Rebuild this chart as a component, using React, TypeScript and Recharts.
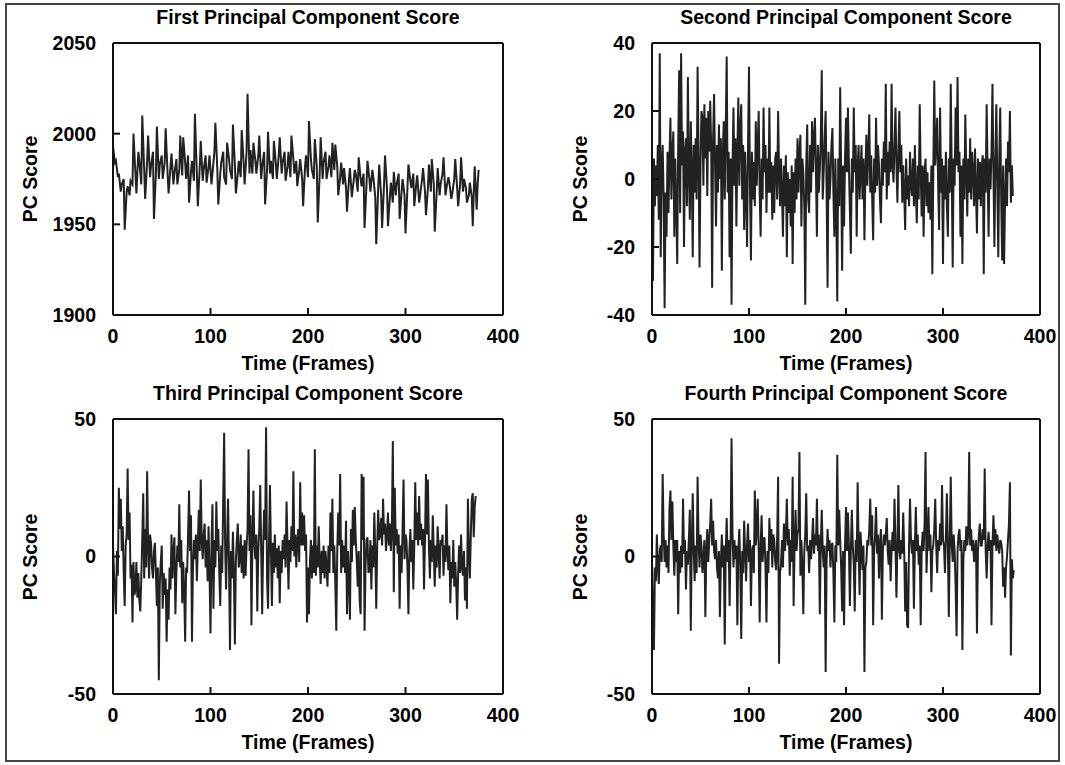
import { LineChart, Line, XAxis, YAxis } from "recharts";

const FONT = '"Liberation Sans", Arial, sans-serif';

const frameTicks = [0, 100, 200, 300, 400];
const pc1Ticks = [1900, 1950, 2000, 2050];
const pc2Ticks = [-40, -20, 0, 20, 40];
const pc34Ticks = [-50, 0, 50];

// [frame, score] pairs
const pc1: [number, number][] = [
  [0, 1993], [2, 1984], [3, 1985], [5, 1976], [6, 1978], [8, 1968], [9, 1972], [11, 1975], [12, 1947], [14, 1968],
  [15, 1971], [17, 1966], [18, 1974], [20, 1972], [21, 2000], [23, 1978], [24, 1967], [26, 1990], [27, 1985], [29, 1972],
  [30, 2010], [32, 1980], [33, 1964], [35, 1985], [36, 1999], [38, 1976], [39, 1982], [41, 1990], [42, 1953], [44, 1978],
  [45, 2004], [47, 1975], [48, 1983], [50, 1988], [51, 1975], [53, 1984], [54, 2003], [56, 1978], [57, 1967], [59, 1982],
  [60, 1989], [62, 1972], [63, 1978], [65, 1986], [66, 1972], [68, 1980], [69, 1999], [71, 1977], [72, 1998], [74, 1984],
  [75, 1975], [77, 1988], [78, 1962], [80, 1979], [81, 1985], [83, 1974], [84, 2011], [86, 1978], [87, 1960], [89, 1982],
  [90, 1996], [92, 1974], [93, 1980], [95, 1988], [96, 1973], [98, 1982], [99, 1988], [101, 1972], [102, 1978], [104, 1990],
  [105, 2006], [107, 1980], [108, 1961], [110, 1978], [111, 1984], [113, 1990], [114, 1976], [116, 1972], [117, 1995], [119, 1986],
  [120, 1980], [122, 1975], [123, 2005], [125, 1983], [126, 1967], [128, 1978], [129, 1985], [131, 1976], [132, 2002], [134, 1984],
  [135, 1972], [137, 1990], [138, 2022], [140, 1978], [141, 1991], [143, 1978], [144, 1995], [146, 1985], [147, 1978], [149, 1988],
  [150, 1999], [152, 1975], [153, 1982], [155, 1990], [156, 1961], [158, 1980], [159, 2001], [161, 1978], [162, 1985], [164, 1975],
  [165, 1996], [167, 1984], [168, 1975], [170, 1988], [171, 1998], [173, 1978], [174, 1984], [176, 1990], [177, 1974], [179, 1982],
  [180, 1990], [182, 1976], [183, 1999], [185, 1986], [186, 1978], [188, 1985], [189, 1971], [191, 1980], [192, 1986], [194, 1975],
  [195, 1960], [197, 1982], [198, 1988], [200, 1976], [201, 2007], [203, 1986], [204, 1980], [206, 1975], [207, 1997], [209, 1982],
  [210, 1951], [212, 1978], [213, 1998], [215, 1975], [216, 1984], [218, 1990], [219, 1975], [221, 1982], [222, 1988], [224, 1976],
  [225, 1995], [227, 1980], [228, 1994], [230, 1982], [231, 1966], [233, 1976], [234, 1984], [236, 1972], [237, 1981], [239, 1970],
  [240, 1957], [242, 1975], [243, 1981], [245, 1965], [246, 1970], [248, 1980], [249, 1978], [251, 1968], [252, 1987], [254, 1975],
  [255, 1971], [257, 1978], [258, 1948], [260, 1972], [261, 1985], [263, 1975], [264, 1968], [266, 1980], [267, 1976], [269, 1965],
  [270, 1939], [272, 1970], [273, 1983], [275, 1966], [276, 1948], [278, 1972], [279, 1988], [281, 1970], [282, 1949], [284, 1965],
  [285, 1973], [287, 1962], [288, 1979], [290, 1966], [291, 1972], [293, 1978], [294, 1953], [296, 1968], [297, 1975], [299, 1966],
  [300, 1945], [302, 1970], [303, 1983], [305, 1974], [306, 1970], [308, 1978], [309, 1960], [311, 1972], [312, 1977], [314, 1962],
  [315, 1966], [317, 1975], [318, 1981], [320, 1968], [321, 1955], [323, 1970], [324, 1983], [326, 1968], [327, 1986], [329, 1972],
  [330, 1946], [332, 1968], [333, 1981], [335, 1966], [336, 1972], [338, 1978], [339, 1987], [341, 1966], [342, 1970], [344, 1976],
  [345, 1973], [347, 1964], [348, 1967], [350, 1975], [351, 1986], [353, 1970], [354, 1960], [356, 1972], [357, 1987], [359, 1968],
  [360, 1975], [362, 1970], [363, 1962], [365, 1966], [366, 1973], [368, 1965], [369, 1949], [370, 1968], [371, 1982], [372, 1970],
  [373, 1958], [374, 1972], [375, 1980],
];

const pc2: [number, number][] = [
  [0, 2], [1, -30], [2, 6], [3, -8], [4, 4], [5, -5], [6, 10], [7, -12], [8, 37], [9, -23],
  [10, 4], [11, 10], [12, -6], [13, -38], [14, -4], [15, -17], [16, 8], [17, -10], [18, 6], [19, 18],
  [20, -6], [21, 8], [22, 14], [23, -17], [24, 6], [25, -8], [26, -25], [27, 10], [28, 32], [29, -10],
  [30, 37], [31, 4], [32, 14], [33, -20], [34, 8], [35, 12], [36, -8], [37, 30], [38, 2], [39, -12],
  [40, 17], [41, 2], [42, -23], [43, 10], [44, -4], [45, 12], [46, -6], [47, 33], [48, 8], [49, -26],
  [50, 4], [51, 20], [52, 18], [53, -2], [54, 22], [55, 6], [56, 18], [57, -5], [58, 20], [59, 8],
  [60, 23], [61, 10], [62, -32], [63, 12], [64, 25], [65, 4], [66, -14], [67, 10], [68, -4], [69, 16],
  [70, 0], [71, 12], [72, -27], [73, 8], [74, 17], [75, -6], [76, 14], [77, 36], [78, -4], [79, 8],
  [80, -23], [81, 6], [82, -37], [83, 4], [84, 21], [85, -2], [86, 12], [87, -14], [88, 8], [89, 24],
  [90, -2], [91, 14], [92, 22], [93, -6], [94, 10], [95, -15], [96, 8], [97, -4], [98, -20], [99, 10],
  [100, 33], [101, -2], [102, -24], [103, 8], [104, -6], [105, 5], [106, -8], [107, 17], [108, -2], [109, 10],
  [110, 20], [111, -4], [112, -17], [113, 6], [114, -6], [115, 21], [116, 2], [117, 10], [118, -10], [119, 6],
  [120, -4], [121, 21], [122, -4], [123, 5], [124, -12], [125, 4], [126, -10], [127, 6], [128, 8], [129, -6],
  [130, 20], [131, 2], [132, -8], [133, 6], [134, -4], [135, -17], [136, 4], [137, -8], [138, 7], [139, -23],
  [140, 2], [141, -10], [142, 0], [143, -14], [144, 4], [145, -25], [146, 2], [147, -10], [148, 6], [149, -6],
  [150, 12], [151, -4], [152, 8], [153, 13], [154, -14], [155, 6], [156, 2], [157, -8], [158, -37], [159, 4],
  [160, 16], [161, -6], [162, -10], [163, 10], [164, -4], [165, 17], [166, 2], [167, 12], [168, 18], [169, 2],
  [170, -17], [171, 10], [172, -4], [173, 3], [174, 12], [175, 32], [176, -6], [177, 2], [178, 12], [179, 20],
  [180, -4], [181, -32], [182, 8], [183, -6], [184, 0], [185, 10], [186, 15], [187, -4], [188, -17], [189, 6],
  [190, -10], [191, -36], [192, 6], [193, -8], [194, 27], [195, 2], [196, -27], [197, 4], [198, -14], [199, 6],
  [200, 18], [201, 2], [202, 21], [203, 4], [204, -9], [205, -22], [206, 6], [207, -4], [208, 21], [209, 2],
  [210, 10], [211, -17], [212, 4], [213, 10], [214, -6], [215, 2], [216, 10], [217, -6], [218, 6], [219, -18],
  [220, 2], [221, 13], [222, -2], [223, 8], [224, 19], [225, -4], [226, 7], [227, -6], [228, -18], [229, 6],
  [230, -4], [231, 18], [232, -2], [233, 10], [234, 4], [235, -6], [236, -13], [237, 6], [238, -2], [239, 11],
  [240, 2], [241, 28], [242, -6], [243, 8], [244, -2], [245, 11], [246, 2], [247, 28], [248, 4], [249, -1],
  [250, 10], [251, 21], [252, 4], [253, -7], [254, 8], [255, 20], [256, 2], [257, 10], [258, -7], [259, 4],
  [260, -4], [261, -15], [262, 6], [263, -6], [264, 1], [265, -8], [266, 8], [267, -2], [268, -5], [269, 6],
  [270, -8], [271, 10], [272, -4], [273, -13], [274, 4], [275, -6], [276, 22], [277, 2], [278, -11], [279, 4],
  [280, -17], [281, 2], [282, 6], [283, -8], [284, 2], [285, -10], [286, -1], [287, -12], [288, 4], [289, -28],
  [290, 2], [291, 29], [292, 4], [293, 10], [294, 18], [295, -2], [296, -15], [297, 21], [298, -4], [299, 6],
  [300, -25], [301, 4], [302, -6], [303, 8], [304, -8], [305, -17], [306, 6], [307, -4], [308, 28], [309, 2],
  [310, -26], [311, 6], [312, -2], [313, 21], [314, 4], [315, 30], [316, 2], [317, 8], [318, -17], [319, 4],
  [320, -25], [321, 6], [322, -6], [323, 19], [324, 2], [325, -11], [326, 6], [327, -4], [328, 12], [329, -6],
  [330, 8], [331, 2], [332, -8], [333, 9], [334, -4], [335, -16], [336, 6], [337, -6], [338, 5], [339, -8],
  [340, 4], [341, 7], [342, -28], [343, 6], [344, -4], [345, 22], [346, 2], [347, -17], [348, 6], [349, -3],
  [350, 8], [351, 28], [352, 2], [353, -20], [354, 6], [355, 22], [356, -2], [357, -23], [358, 6], [359, 21],
  [360, -6], [361, -24], [362, 4], [363, -25], [364, -6], [365, 6], [366, -8], [367, 11], [368, 2], [369, 20],
  [370, -7], [371, 4], [372, -5],
];

const pc3: [number, number][] = [
  [0, 4], [1, -6], [2, -12], [3, -21], [4, 2], [5, -7], [6, 25], [7, 10], [8, 21], [9, 2],
  [10, 11], [11, -6], [12, -18], [13, 4], [14, 8], [15, 32], [16, 6], [17, 16], [18, -8], [19, -3],
  [20, -24], [21, -2], [22, -14], [23, -12], [24, -2], [25, -15], [26, -6], [27, -16], [28, -20], [29, -8],
  [30, 6], [31, 23], [32, -8], [33, 10], [34, -4], [35, 31], [36, 4], [37, -8], [38, 8], [39, 5],
  [40, -4], [41, -8], [42, 2], [43, 5], [44, -6], [45, -18], [46, -4], [47, -45], [48, -10], [49, -2],
  [50, 4], [51, -19], [52, -6], [53, -14], [54, -8], [55, -31], [56, -12], [57, -23], [58, -4], [59, -12],
  [60, 8], [61, -8], [62, 2], [63, 7], [64, -21], [65, -6], [66, 4], [67, -2], [68, 19], [69, -4],
  [70, 6], [71, -17], [72, -2], [73, -12], [74, -31], [75, -4], [76, -6], [77, 8], [78, 24], [79, 2],
  [80, 15], [81, -31], [82, -4], [83, 6], [84, -1], [85, 8], [86, -9], [87, 4], [88, 17], [89, 2],
  [90, 28], [91, 6], [92, -1], [93, 8], [94, 12], [95, -4], [96, 6], [97, -9], [98, 11], [99, -6],
  [100, -28], [101, 4], [102, 19], [103, -19], [104, 6], [105, -4], [106, 20], [107, 2], [108, 10], [109, -6],
  [110, -18], [111, 4], [112, -6], [113, 20], [114, 45], [115, 4], [116, -12], [117, 6], [118, 21], [119, -4],
  [120, -34], [121, 2], [122, -8], [123, 9], [124, -6], [125, -32], [126, -2], [127, 6], [128, 12], [129, -4],
  [130, -1], [131, 8], [132, -6], [133, 4], [134, -8], [135, 6], [136, -7], [137, 4], [138, 10], [139, 39],
  [140, 2], [141, 15], [142, -25], [143, 6], [144, 24], [145, 4], [146, -1], [147, 8], [148, -20], [149, 2],
  [150, 10], [151, 26], [152, 2], [153, -21], [154, 4], [155, 17], [156, 6], [157, 47], [158, -8], [159, -19],
  [160, 4], [161, 26], [162, 2], [163, -18], [164, 5], [165, -6], [166, 8], [167, -4], [168, 3], [169, -8],
  [170, 4], [171, -17], [172, 2], [173, -6], [174, 6], [175, -1], [176, 8], [177, -4], [178, 20], [179, 4],
  [180, -12], [181, 6], [182, -2], [183, 11], [184, 2], [185, 31], [186, 0], [187, 8], [188, -4], [189, 6],
  [190, 10], [191, -2], [192, 27], [193, 4], [194, 16], [195, 4], [196, 15], [197, 2], [198, 8], [199, -24],
  [200, -4], [201, -21], [202, -2], [203, 6], [204, -8], [205, 4], [206, -6], [207, 39], [208, -7], [209, 4],
  [210, -4], [211, 11], [212, -2], [213, -10], [214, 2], [215, -6], [216, 4], [217, -8], [218, 2], [219, -4],
  [220, -11], [221, 4], [222, -6], [223, 16], [224, 2], [225, 21], [226, -6], [227, 4], [228, -10], [229, -27],
  [230, 2], [231, 16], [232, 4], [233, 30], [234, -6], [235, 6], [236, -4], [237, 4], [238, -6], [239, 13],
  [240, -21], [241, 2], [242, -8], [243, -23], [244, 10], [245, -2], [246, 17], [247, 4], [248, 18], [249, 6],
  [250, -1], [251, -11], [252, 2], [253, -16], [254, -21], [255, 30], [256, 6], [257, 29], [258, -27], [259, -4],
  [260, 6], [261, 7], [262, -6], [263, -5], [264, 6], [265, -12], [266, 4], [267, -4], [268, 16], [269, 2],
  [270, -19], [271, 4], [272, 17], [273, 6], [274, 8], [275, 14], [276, 4], [277, 21], [278, 8], [279, 12],
  [280, 2], [281, 8], [282, 16], [283, 4], [284, 12], [285, 2], [286, 10], [287, 42], [288, -13], [289, 25],
  [290, 4], [291, 10], [292, 1], [293, 8], [294, -19], [295, 4], [296, -6], [297, 10], [298, 28], [299, -1],
  [300, 8], [301, 6], [302, -4], [303, -21], [304, 2], [305, 10], [306, -2], [307, 6], [308, -12], [309, 4],
  [310, 27], [311, 6], [312, 16], [313, 4], [314, 22], [315, 6], [316, 12], [317, 4], [318, 10], [319, -12],
  [320, 6], [321, 30], [322, 8], [323, 28], [324, 4], [325, -8], [326, 6], [327, -2], [328, 15], [329, 2],
  [330, -11], [331, 4], [332, -4], [333, 11], [334, 2], [335, -8], [336, 6], [337, 4], [338, 8], [339, -7],
  [340, 4], [341, -2], [342, 19], [343, 2], [344, -5], [345, 4], [346, -17], [347, -2], [348, -8], [349, 6],
  [350, -11], [351, -2], [352, -10], [353, -23], [354, -6], [355, 4], [356, -6], [357, 8], [358, -4], [359, -7],
  [360, 2], [361, -16], [362, -4], [363, -19], [364, 21], [365, 2], [366, -8], [367, 8], [368, 21], [369, 23],
  [370, 7], [371, 18], [372, 22],
];

const pc4: [number, number][] = [
  [0, 0], [1, -21], [2, -34], [3, -4], [4, -9], [5, 8], [6, -4], [7, -10], [8, 2], [9, 4],
  [10, -2], [11, 30], [12, 8], [13, -2], [14, 6], [15, -4], [16, 4], [17, -6], [18, 17], [19, 24],
  [20, 6], [21, 20], [22, 4], [23, -7], [24, 6], [25, -2], [26, 6], [27, -21], [28, 2], [29, -6],
  [30, 4], [31, -4], [32, 21], [33, 1], [34, 6], [35, -12], [36, 2], [37, -3], [38, 6], [39, 17],
  [40, -27], [41, 4], [42, 23], [43, 2], [44, -9], [45, 4], [46, -6], [47, 29], [48, 6], [49, -4],
  [50, 8], [51, 4], [52, -6], [53, -1], [54, 6], [55, -22], [56, 2], [57, 10], [58, -2], [59, 6],
  [60, 12], [61, 21], [62, 4], [63, 13], [64, 2], [65, -1], [66, 6], [67, -4], [68, -8], [69, 2],
  [70, -22], [71, -2], [72, 8], [73, -4], [74, 4], [75, -32], [76, 2], [77, 14], [78, -2], [79, 6],
  [80, -18], [81, 4], [82, 43], [83, 8], [84, -4], [85, 6], [86, -1], [87, 4], [88, -25], [89, 2],
  [90, 10], [91, -4], [92, -30], [93, 2], [94, -6], [95, 13], [96, 2], [97, -9], [98, 4], [99, 12],
  [100, -2], [101, 6], [102, -18], [103, 2], [104, 4], [105, -6], [106, 24], [107, 4], [108, 10], [109, 21],
  [110, 2], [111, -24], [112, 4], [113, 15], [114, -2], [115, 6], [116, 7], [117, -4], [118, -24], [119, 2],
  [120, -6], [121, 14], [122, 2], [123, 10], [124, -4], [125, 8], [126, 6], [127, -2], [128, -5], [129, 6],
  [130, 29], [131, -39], [132, -6], [133, -3], [134, 6], [135, -4], [136, 12], [137, 2], [138, 8], [139, 21],
  [140, 4], [141, 10], [142, -7], [143, 6], [144, -2], [145, 29], [146, -18], [147, 4], [148, 17], [149, 2],
  [150, 8], [151, 10], [152, 38], [153, -7], [154, 6], [155, -4], [156, -21], [157, 2], [158, 8], [159, 23],
  [160, 2], [161, 4], [162, -6], [163, 6], [164, -1], [165, 6], [166, 14], [167, 1], [168, 8], [169, 4],
  [170, 21], [171, 2], [172, 8], [173, -21], [174, 4], [175, 17], [176, 2], [177, -4], [178, 4], [179, -42],
  [180, -2], [181, 10], [182, 2], [183, 6], [184, -4], [185, 4], [186, 5], [187, -6], [188, -24], [189, 4],
  [190, -2], [191, 37], [192, 4], [193, 17], [194, 6], [195, -4], [196, -20], [197, 2], [198, -25], [199, 4],
  [200, 18], [201, 2], [202, 16], [203, 4], [204, -18], [205, 2], [206, 17], [207, 4], [208, -3], [209, -20],
  [210, 6], [211, -2], [212, 27], [213, 4], [214, -14], [215, 9], [216, 2], [217, -5], [218, 4], [219, -42],
  [220, -4], [221, -2], [222, 6], [223, 4], [224, 10], [225, 21], [226, 4], [227, 15], [228, -25], [229, 2],
  [230, 8], [231, 18], [232, 1], [233, 8], [234, -8], [235, 4], [236, 10], [237, -23], [238, 2], [239, 8],
  [240, 4], [241, 8], [242, 14], [243, 2], [244, -3], [245, 6], [246, -9], [247, 2], [248, 9], [249, 2],
  [250, 21], [251, 4], [252, -15], [253, 4], [254, 26], [255, 2], [256, -1], [257, 6], [258, 1], [259, 16],
  [260, 2], [261, -20], [262, -2], [263, -25], [264, -26], [265, 4], [266, 21], [267, 6], [268, 1], [269, 6],
  [270, -19], [271, 4], [272, 18], [273, 2], [274, 8], [275, -3], [276, 4], [277, -25], [278, 2], [279, 9],
  [280, 2], [281, 12], [282, 38], [283, -6], [284, 6], [285, 18], [286, 2], [287, 8], [288, -13], [289, 2],
  [290, 4], [291, 10], [292, 21], [293, 4], [294, -6], [295, 6], [296, 2], [297, 12], [298, 4], [299, 26],
  [300, 6], [301, 4], [302, -6], [303, 8], [304, 23], [305, 4], [306, -22], [307, 6], [308, 29], [309, 4],
  [310, -2], [311, 8], [312, 2], [313, -11], [314, -29], [315, 2], [316, 8], [317, 10], [318, 2], [319, 6],
  [320, -34], [321, -1], [322, 6], [323, 2], [324, 11], [325, 4], [326, 8], [327, 38], [328, 4], [329, 10],
  [330, 2], [331, 6], [332, -2], [333, 3], [334, 6], [335, -28], [336, 2], [337, 8], [338, 12], [339, 4],
  [340, 4], [341, 10], [342, 6], [343, 32], [344, 2], [345, -8], [346, 4], [347, 9], [348, 2], [349, 6],
  [350, -25], [351, 4], [352, 15], [353, 4], [354, 10], [355, 2], [356, 8], [357, 4], [358, 1], [359, 6],
  [360, 5], [361, 2], [362, -11], [363, -4], [364, -15], [365, -4], [366, 0], [367, 6], [368, 12], [369, 27],
  [370, -36], [371, -1], [372, -8], [373, -5],
];

const tickStyle = { fill: "#000", fontSize: 19.5, fontWeight: 700, fontFamily: FONT };
const textStyle = {
  position: "absolute" as const,
  fontFamily: FONT,
  fontWeight: 700,
  fontSize: 19.5,
  color: "#000",
  whiteSpace: "nowrap" as const,
};

type PanelProps = {
  title: string;
  data: [number, number][];
  domain: [number, number];
  yTicks: number[];
  box: [number, number, number, number]; // plot area: left, top, right, bottom
  labelX: number;
};

function Panel({ title, data, domain, yTicks, box, labelX }: PanelProps) {
  const [x0, y0, x1, y1] = box;
  const axisW = 113;
  const top = 43;
  const bottom = 75;
  const right = 19;
  const rows = data.map(([frame, score]) => ({ frame, score }));

  return (
    <>
      <div style={{ ...textStyle, left: x0, width: x1 - x0, top: y0 - 37, textAlign: "center" }}>{title}</div>
      <div style={{ ...textStyle, left: x0, width: x1 - x0, top: y1 + 37, textAlign: "center" }}>Time (Frames)</div>
      <div
        style={{
          ...textStyle,
          left: labelX,
          top: (y0 + y1) / 2,
          transform: "translate(-50%, -50%) rotate(-90deg)",
        }}
      >
        PC Score
      </div>
      <div style={{ position: "absolute", left: x0 - axisW, top: y0 - top - 1 }}>
        <LineChart
          width={x1 - x0 + axisW + right + 1}
          height={y1 - y0 + top + 1 + bottom}
          data={rows}
          margin={{ top, right, bottom: 0, left: 0 }}
        >
          <XAxis
            dataKey="frame"
            type="number"
            domain={[0, 400]}
            ticks={frameTicks}
            height={bottom}
            stroke="#111"
            strokeWidth={2}
            tickSize={-7}
            tickMargin={21}
            tick={tickStyle}
          />
          <XAxis
            xAxisId="top"
            dataKey="frame"
            orientation="top"
            type="number"
            domain={[0, 400]}
            ticks={frameTicks}
            height={1}
            stroke="#111"
            strokeWidth={2}
            tickSize={-7}
            tick={false}
          />
          <YAxis
            type="number"
            domain={domain}
            ticks={yTicks}
            width={axisW}
            stroke="#111"
            strokeWidth={2}
            tickSize={-7}
            tickMargin={24}
            tick={tickStyle}
          />
          <YAxis
            yAxisId="right"
            orientation="right"
            type="number"
            domain={domain}
            ticks={yTicks}
            width={1}
            stroke="#111"
            strokeWidth={2}
            tickSize={-7}
            tick={false}
          />
          {/* invisible copy so the frame axes on top/right get their scales */}
          <Line
            xAxisId="top"
            yAxisId="right"
            dataKey="score"
            stroke="none"
            dot={false}
            activeDot={false}
            isAnimationActive={false}
          />
          <Line
            type="linear"
            dataKey="score"
            stroke="#222"
            strokeWidth={2}
            dot={false}
            isAnimationActive={false}
          />
        </LineChart>
      </div>
    </>
  );
}

export default function App() {
  return (
    <div style={{ position: "absolute", left: 0, top: 0, width: 1065, height: 765, background: "#fff" }}>
      <div
        style={{
          position: "absolute",
          left: 5,
          top: 3,
          width: 1051,
          height: 755,
          border: "2px solid #444",
        }}
      />
      <Panel title="First Principal Component Score" data={pc1} domain={[1900, 2050]} yTicks={pc1Ticks} box={[113, 43, 503, 315]} labelX={30} />
      <Panel title="Second Principal Component Score" data={pc2} domain={[-40, 40]} yTicks={pc2Ticks} box={[652, 43, 1040, 315]} labelX={580} />
      <Panel title="Third Principal Component Score" data={pc3} domain={[-50, 50]} yTicks={pc34Ticks} box={[113, 419, 503, 694]} labelX={30} />
      <Panel title="Fourth Principal Component Score" data={pc4} domain={[-50, 50]} yTicks={pc34Ticks} box={[652, 419, 1040, 694]} labelX={580} />
    </div>
  );
}
